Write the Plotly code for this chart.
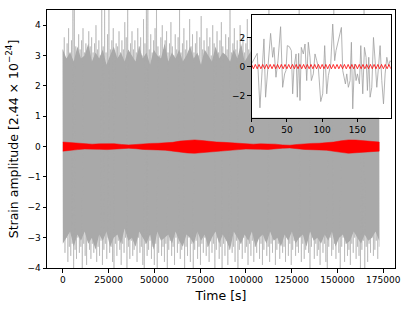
import numpy as np
import plotly.graph_objects as go

# ---------------- data ----------------
T_END = 172800  # two days of data, seconds

# upper / lower extremes of the gray noise (per ~785 s slice)
noise_hi = [3.2, 3.6, 2.9, 3.4, 3.9, 3.1, 3.5, 4.6, 4.5, 3.3,
            3.0, 3.7, 3.2, 3.5, 3.9, 3.1, 3.4, 3.0, 3.8, 3.3,
            3.6, 3.1, 3.4, 4.0, 3.2, 3.5, 3.0, 4.6, 3.3, 4.5,
            3.1, 3.7, 4.6, 3.2, 3.5, 3.9, 3.0, 3.4, 3.3, 3.8,
            3.1, 3.5, 3.2, 4.1, 3.6, 4.6, 3.0, 3.4, 3.8, 3.2,
            3.5, 3.1, 3.9, 3.3, 3.6, 3.0, 4.2, 3.4, 4.6, 4.6,
            3.2, 3.7, 3.1, 3.5, 3.9, 4.6, 3.3, 3.0, 3.6, 4.0,
            3.2, 3.5, 3.8, 3.1, 3.4, 4.1, 3.3, 3.0, 3.7, 3.2,
            3.6, 4.6, 3.1, 3.4, 3.9, 3.2, 3.5, 3.0, 4.2, 3.3,
            3.7, 3.1, 3.4, 3.8, 3.0, 3.6, 4.3, 3.2, 3.5, 3.1,
            3.9, 3.3, 3.6, 3.0, 4.0, 3.4, 3.2, 3.8, 3.1, 3.5,
            4.1, 3.3, 3.0, 3.7, 3.2, 3.6, 4.6, 3.1, 3.4, 3.9,
            3.2, 3.5, 3.0, 4.0, 3.3, 3.7, 3.1, 3.4, 4.2, 3.2,
            3.6, 3.0, 3.8, 3.3, 3.5, 4.1, 3.1, 3.4, 3.9, 3.2,
            3.6, 3.0, 3.7, 4.6, 3.3, 3.5, 3.1, 4.0, 3.4, 3.2,
            3.8, 3.1, 3.5, 4.2, 3.3, 3.0, 3.7, 3.2, 3.9, 3.4,
            3.1, 3.6, 4.0, 3.3, 4.6, 3.2, 3.5, 3.0, 3.8, 3.4,
            3.2, 4.1, 3.5, 3.1, 3.7, 3.3, 3.9, 3.0, 3.6, 4.3,
            3.2, 3.5, 3.1, 3.8, 3.4, 3.0, 4.0, 3.3, 4.6, 3.2,
            3.6, 3.1, 3.9, 3.4, 3.2, 4.1, 3.0, 3.5, 3.7, 3.3,
            3.1, 3.8, 3.4, 3.2, 4.0, 3.5, 3.0, 3.7, 3.3, 4.6,
            3.2, 3.6, 3.1, 3.9, 3.4, 3.2, 3.7, 3.0, 3.5, 3.3]
noise_lo = [-3.1, -3.5, -3.0, -3.8, -3.3, -3.6, -3.2, -4.1, -3.4, -3.7,
            -3.0, -3.5, -3.3, -4.1, -3.2, -3.6, -3.9, -3.1, -3.4, -3.7,
            -3.2, -3.5, -3.0, -3.8, -3.3, -3.6, -3.1, -3.9, -3.4, -3.2,
            -3.7, -3.0, -3.5, -3.3, -3.8, -4.1, -3.2, -3.6, -3.1, -3.4,
            -3.9, -3.2, -3.5, -3.0, -4.1, -3.3, -3.7, -3.1, -3.6, -3.4,
            -3.2, -3.8, -3.0, -3.5, -3.3, -3.9, -4.1, -3.2, -3.6, -3.4,
            -3.1, -3.7, -3.3, -3.9, -3.2, -4.1, -3.5, -3.0, -3.6, -3.3,
            -3.8, -3.2, -4.1, -3.4, -3.1, -3.6, -3.3, -3.9, -3.0, -3.5,
            -3.2, -3.7, -3.4, -3.1, -4.1, -3.3, -3.6, -3.0, -3.8, -3.2,
            -4.1, -3.4, -3.1, -3.7, -3.3, -3.9, -3.2, -3.5, -3.0, -3.6,
            -3.3, -3.8, -3.1, -3.5, -3.2, -4.1, -3.4, -3.0, -3.7, -3.3,
            -4.1, -3.2, -3.6, -3.1, -3.9, -3.4, -3.0, -3.5, -3.3, -3.8,
            -3.1, -4.1, -3.4, -3.2, -3.7, -3.0, -3.5, -3.3, -3.9, -3.2,
            -3.6, -3.1, -3.8, -3.3, -3.5, -3.0, -3.7, -3.2, -3.9, -3.4,
            -3.1, -3.6, -3.3, -3.8, -3.2, -3.5, -3.0, -3.9, -3.4, -3.2,
            -3.7, -3.1, -3.5, -3.3, -3.8, -3.0, -3.6, -3.2, -3.9, -3.4,
            -3.1, -3.6, -3.3, -3.5, -3.0, -3.8, -3.2, -3.7, -3.4, -3.1,
            -3.5, -4.1, -3.3, -3.0, -3.7, -3.2, -3.6, -3.4, -3.9, -3.1,
            -3.5, -3.2, -3.8, -4.1, -3.3, -3.0, -3.6, -3.4, -3.2, -3.7,
            -3.1, -3.5, -4.1, -3.3, -3.0, -3.8, -3.2, -3.6, -3.4, -3.9,
            -3.2, -3.5, -3.0, -3.7, -3.3, -3.6, -4.1, -3.4, -3.1, -4.1,
            -3.3, -3.8, -3.2, -3.5, -3.0, -3.6, -3.4, -3.1, -3.7, -3.3]

# ragged dense core of the noise band (per ~1990 s slice)
core_hi = [3.2, 2.9, 3.1, 2.8, 3.3, 2.9, 3.0, 3.4, 2.8, 3.1,
           2.9, 3.2, 2.7, 3.0, 3.3, 2.9, 3.1, 2.8, 3.2, 3.0,
           2.8, 3.3, 2.9, 3.1, 2.7, 3.2, 3.0, 2.9, 3.4, 2.8,
           3.1, 2.9, 3.2, 2.8, 3.0, 3.3, 2.9, 3.1, 2.7, 3.2,
           3.0, 2.8, 3.3, 2.9, 3.1, 3.0, 2.8, 3.2, 2.9, 3.4,
           2.8, 3.0, 3.2, 2.9, 3.1, 2.7, 3.3, 3.0, 2.9, 3.1,
           2.8, 3.2, 3.0, 2.9, 3.3, 2.8, 3.1, 2.9, 3.2, 3.0,
           2.7, 3.1, 3.3, 2.9, 3.0, 2.8, 3.2, 3.0, 2.9, 3.3,
           2.8, 3.1, 2.9, 3.2, 3.0, 2.8, 3.1, 3.0]
core_lo = [-3.2, -3.0, -2.8, -3.3, -2.9, -3.1, -2.8, -3.2, -3.0, -3.4,
           -2.9, -3.1, -2.8, -3.3, -3.0, -2.9, -3.2, -2.7, -3.1, -3.0,
           -3.3, -2.8, -3.0, -3.2, -2.9, -3.4, -2.8, -3.1, -3.0, -2.9,
           -3.2, -2.8, -3.1, -3.3, -2.9, -3.0, -3.2, -2.8, -3.1, -2.9,
           -3.3, -3.0, -2.8, -3.2, -2.9, -3.1, -3.4, -2.8, -3.0, -3.2,
           -2.9, -3.1, -2.8, -3.3, -3.0, -2.9, -3.2, -2.8, -3.1, -3.0,
           -3.3, -2.9, -3.1, -2.8, -3.2, -3.0, -2.9, -3.3, -2.8, -3.1,
           -3.0, -3.2, -2.9, -3.1, -2.8, -3.3, -3.0, -2.9, -3.2, -3.1,
           -2.8, -3.0, -3.2, -2.9, -3.1, -3.0, -2.8, -3.1]

# amplitude envelope of the red signal
sig_t = [0, 4000, 8000, 12000, 16000, 20000, 24000, 28000, 32000, 36000, 40000,
         44000, 48000, 52000, 56000, 60000, 64000, 68000, 72000, 76000, 80000,
         84000, 88000, 92000, 96000, 100000, 104000, 108000, 112000, 116000,
         120000, 124000, 128000, 132000, 136000, 140000, 144000, 148000, 152000,
         156000, 160000, 164000, 168000, 172800]
sig_env = [0.15, 0.13, 0.10, 0.08, 0.08, 0.09, 0.10, 0.095, 0.07, 0.055, 0.07,
           0.095, 0.105, 0.11, 0.12, 0.14, 0.18, 0.21, 0.22, 0.20, 0.17,
           0.15, 0.14, 0.12, 0.10, 0.08, 0.08, 0.09, 0.095, 0.08,
           0.055, 0.045, 0.07, 0.095, 0.105, 0.11, 0.12, 0.15, 0.19,
           0.22, 0.215, 0.20, 0.17, 0.15]

# inset: first ~200 s of the data
ins_t = [0, 8.0, 11.8, 17.5, 19.8, 23.6, 26.9, 29.8, 31.7, 34.5, 37.4, 41.1, 44.0,
         46.8, 48.7, 50.6, 53.5, 56.3, 58.2, 60.1, 63.0, 64.8, 66.7, 68.6, 70.5,
         73.3, 75.7, 78.1, 80.4, 82.8, 84.7, 87.5, 89.9, 92.3, 94.6, 98.0, 100.8,
         103.6, 106.5, 108.8, 112.2, 115.0, 117.8, 119.7, 123.0, 127.3, 129.2,
         131.1, 133.0, 134.9, 137.2, 139.6, 141.5, 143.4, 145.8, 148.1, 150.0,
         152.9, 154.8, 157.6, 160.0, 162.3, 164.2, 166.1, 168.0, 170.4, 172.8,
         175.1, 177.5, 179.9, 182.2, 184.6, 187.0, 189.3, 191.7, 194.1, 196.4, 197.4]
ins_v = [0.2, 0.91, -2.83, 1.9, -2.1, 0.07, 2.28, 0.64, 1.32, -0.73, 0.41, 2.74, -1.42,
         -0.5, -0.27, 1.44, 1.37, 1.1, -1.87, -0.05, 0.87, -2.1, 0.91, -2.33, 1.32,
         0.87, 1.55, -0.96, 1.67, 0.64, -0.96, -0.5, 0.87, 0.41, -0.05, -2.4, -1.87,
         1.44, -1.87, -0.62, 0.18, 2.92, 0.41, 1.1, 1.78, 2.69, -0.27,
         -0.73, -1.19, -0.5, -1.42, -0.96, 1.67, -2.9, 0.18, -0.96, -0.5,
         -1.19, 1.44, -1.87, 1.32, 0.64, -1.64, 0.64, -2.1, -1.42, 2.0,
         0.41, -1.42, -0.05, 1.44, -0.96, -2.56, -0.5, 0.64, 0.07, 0.41, 0.3]
# inset red signal: successive crests / troughs (~2.6 s apart)
ins_sig = [0.15, -0.15, 0.15, -0.15, 0.15, -0.15, 0.15, -0.15, 0.15, -0.15,
           0.15, -0.15, 0.15, -0.15, 0.15, -0.15, 0.15, -0.15, 0.15, -0.15,
           0.15, -0.15, 0.15, -0.15, 0.15, -0.15, 0.15, -0.15, 0.15, -0.15,
           0.15, -0.15, 0.15, -0.15, 0.15, -0.15, 0.15, -0.15, 0.15, -0.15,
           0.15, -0.15, 0.15, -0.15, 0.15, -0.15, 0.15, -0.15, 0.15, -0.15,
           0.15, -0.15, 0.15, -0.15, 0.15, -0.15, 0.15, -0.15, 0.15, -0.15,
           0.15, -0.15, 0.15, -0.15, 0.15, -0.15, 0.15, -0.15, 0.15, -0.15,
           0.15, -0.15, 0.15, -0.15, 0.15, -0.15]

x_ticks = [0, 25000, 50000, 75000, 100000, 125000, 150000, 175000]
y_ticks = [-4, -3, -2, -1, 0, 1, 2, 3, 4]
ins_x_ticks = [0, 50, 100, 150]
ins_y_ticks = [-2, 0, 2]

# ---------------- figure ----------------
GRAY = "#a9a9a9"
FONT = "DejaVu Sans"

fig = go.Figure()

# dense core (ragged)
core_t = np.linspace(0, T_END, len(core_hi))
fig.add_trace(go.Scatter(
    x=np.concatenate([core_t, core_t[::-1]]),
    y=np.concatenate([core_hi, core_lo[::-1]]),
    fill="toself", fillcolor=GRAY, mode="lines",
    line=dict(color=GRAY, width=0), hoverinfo="skip", showlegend=False))

# zigzag noise extremes
zz_t = np.linspace(0, T_END, 2 * len(noise_hi))
zz_v = np.empty(2 * len(noise_hi))
zz_v[0::2] = noise_hi
zz_v[1::2] = noise_lo
fig.add_trace(go.Scatter(
    x=zz_t, y=zz_v, mode="lines",
    line=dict(color="rgba(169,169,169,0.55)", width=1),
    hoverinfo="skip", showlegend=False))

# red signal band
st = np.array(sig_t, dtype=float)
se = np.array(sig_env)
fig.add_trace(go.Scatter(
    x=np.concatenate([st, st[::-1]]),
    y=np.concatenate([se, -se[::-1]]),
    fill="toself", fillcolor="red", mode="lines",
    line=dict(color="red", width=0.5), hoverinfo="skip", showlegend=False))

# inset
INS_X = [0, 197.4]
INS_Y = [-3.5, 3.55]
fig.add_shape(type="rect", xref="x2", yref="y2",
              x0=INS_X[0], x1=INS_X[1], y0=INS_Y[0], y1=INS_Y[1],
              fillcolor="white", line=dict(width=0), layer="below")
fig.add_trace(go.Scatter(
    x=ins_t, y=ins_v, mode="lines", xaxis="x2", yaxis="y2",
    line=dict(color="#a0a0a0", width=0.8), hoverinfo="skip", showlegend=False))
sig_ins_t = np.linspace(0, 197.4, len(ins_sig))
fig.add_trace(go.Scatter(
    x=sig_ins_t, y=ins_sig, mode="lines", xaxis="x2", yaxis="y2",
    line=dict(color="red", width=0.8), hoverinfo="skip", showlegend=False))

axis_common = dict(showline=True, mirror=True, linecolor="black", linewidth=1,
                   ticks="outside", ticklen=3.5, tickwidth=1, tickcolor="black",
                   showgrid=False, zeroline=False, automargin=False,
                   tickfont=dict(family=FONT, size=9, color="black"))

fig.update_layout(
    width=411, height=310, autosize=False,
    margin=dict(l=47, r=16, t=10, b=42),
    paper_bgcolor="white", plot_bgcolor="white",
    hovermode=False,
    xaxis=dict(range=[-8640, 181440], tickvals=x_ticks, tickformat="d",
               domain=[0, 1], anchor="y",
               title=dict(text="Time [s]", font=dict(family=FONT, size=12.5, color="black"),
                          standoff=6),
               **axis_common),
    yaxis=dict(range=[-4, 4.5], tickvals=y_ticks, domain=[0, 1], anchor="x",
               title=dict(text="Strain amplitude [2.44 × 10<sup>−24</sup>]",
                          font=dict(family=FONT, size=12.5, color="black"), standoff=6),
               **axis_common),
    xaxis2=dict(range=INS_X, tickvals=ins_x_ticks, domain=[0.588, 0.988], anchor="y2",
                **axis_common),
    yaxis2=dict(range=INS_Y, tickvals=ins_y_ticks, domain=[0.583, 0.981], anchor="x2",
                **axis_common),
)

fig.write_html("out.html", config={"displayModeBar": False, "staticPlot": True},
               post_script="document.body.style.margin='0';")
